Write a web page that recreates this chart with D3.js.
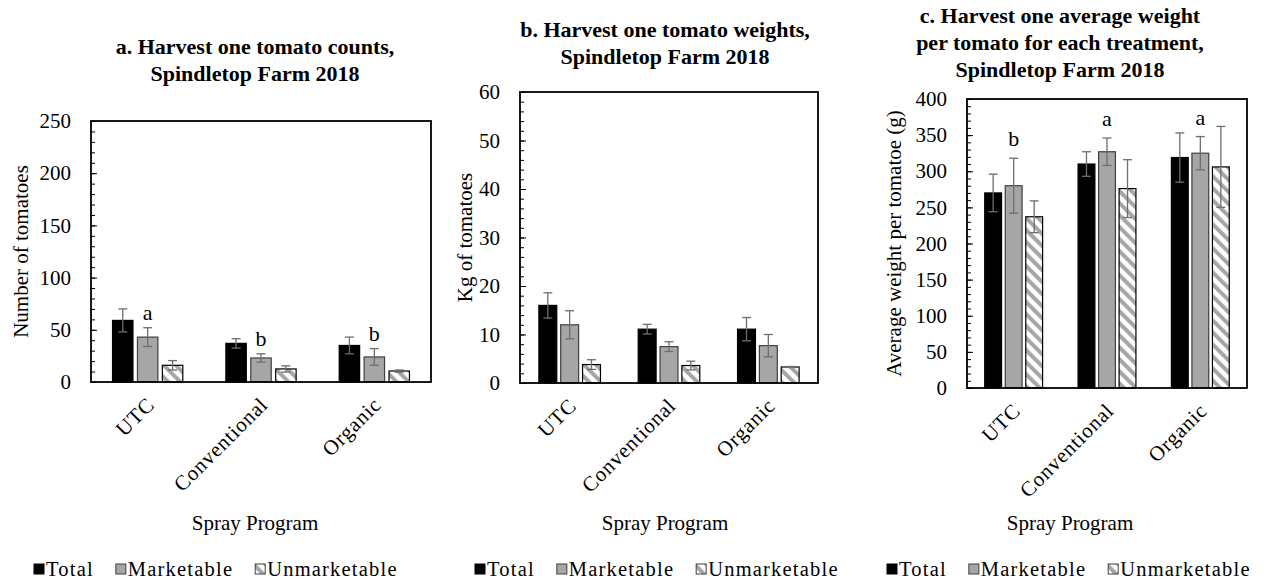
<!DOCTYPE html>
<html>
<head>
<meta charset="utf-8">
<script src="https://cdn.jsdelivr.net/npm/d3@7/dist/d3.min.js"></script>
<style>
  body { margin: 0; background: #fff; }
  svg text { font-family: "Liberation Serif", "Times New Roman", serif; fill: #000; }
</style>
</head>
<body>
<svg id="chart" width="1270" height="582"></svg>
<script>
const categories = ['UTC', 'Conventional', 'Organic'];
const seriesNames = ['Total', 'Marketable', 'Unmarketable'];

// a. counts
const countTotal = [59, 37, 35];
const countTotalErr = [11, 4.5, 8];
const countMarketable = [43, 23, 24];
const countMarketableErr = [9, 4, 8];
const countUnmarketable = [16, 12.5, 10.5];
const countUnmarketableErr = [4.5, 3, 1];
const countLetters = ['a', 'b', 'b'];

// b. weights (kg)
const kgTotal = [16, 11.1, 11.1];
const kgTotalErr = [2.6, 1, 2.4];
const kgMarketable = [12, 7.5, 7.7];
const kgMarketableErr = [2.9, 1, 2.3];
const kgUnmarketable = [3.8, 3.6, 3.3];
const kgUnmarketableErr = [1, 0.9, 0.1];

// c. average weight per tomato (g)
const avgTotal = [270, 310, 319];
const avgTotalErr = [26, 17, 34];
const avgMarketable = [280, 327, 325];
const avgMarketableErr = [38, 19, 23];
const avgUnmarketable = [237, 276, 306];
const avgUnmarketableErr = [22, 40, 56];
const avgLetters = ['b', 'a', 'a'];

const FILL = { Total: '#000', Marketable: '#a6a6a6', Unmarketable: 'url(#hatch)' };
const EDGE = { Total: '#000', Marketable: '#3f3f3f', Unmarketable: '#000' };

const panels = [
  {
    title: ['a. Harvest one tomato counts,', 'Spindletop Farm 2018'],
    titleX: 255, titleY: 54,
    yLabel: 'Number of tomatoes', yLabelX: 21,
    yMax: 250, major: 50, minor: 10,
    box: { x0: 91, x1: 431, y0: 121, y1: 382 },
    values: [countTotal, countMarketable, countUnmarketable],
    errors: [countTotalErr, countMarketableErr, countUnmarketableErr],
    letters: countLetters, letterGap: 8,
    xTitleX: 255, legendX: 34
  },
  {
    title: ['b. Harvest one tomato weights,', 'Spindletop Farm 2018'],
    titleX: 665, titleY: 37,
    yLabel: 'Kg of tomatoes', yLabelX: 465,
    yMax: 60, major: 10, minor: 2,
    box: { x0: 520, x1: 818, y0: 92, y1: 383 },
    values: [kgTotal, kgMarketable, kgUnmarketable],
    errors: [kgTotalErr, kgMarketableErr, kgUnmarketableErr],
    letters: null, letterGap: 0,
    xTitleX: 665, legendX: 475
  },
  {
    title: ['c. Harvest one average weight', 'per tomato for each treatment,', 'Spindletop Farm 2018'],
    titleX: 1060, titleY: 23,
    yLabel: 'Average weight per tomatoe (g)', yLabelX: 894,
    yMax: 400, major: 50, minor: 10,
    box: { x0: 967, x1: 1247, y0: 99, y1: 388 },
    values: [avgTotal, avgMarketable, avgUnmarketable],
    errors: [avgTotalErr, avgMarketableErr, avgUnmarketableErr],
    letters: avgLetters, letterGap: 12,
    xTitleX: 1070, legendX: 887
  }
];

const svg = d3.select('#chart');

const defs = svg.append('defs');
const hatch = defs.append('pattern')
  .attr('id', 'hatch')
  .attr('patternUnits', 'userSpaceOnUse')
  .attr('width', 8.5)
  .attr('height', 8.5)
  .attr('patternTransform', 'rotate(-45)');
hatch.append('rect').attr('width', 8.5).attr('height', 8.5).attr('fill', '#fff');
hatch.append('rect').attr('width', 4).attr('height', 8.5).attr('fill', '#a6a6a6');

function drawPanel(p) {
  const { x0, x1, y0, y1 } = p.box;
  const g = svg.append('g');

  const y = d3.scaleLinear().domain([0, p.yMax]).range([y1, y0]);
  const x = d3.scaleBand().domain(categories).range([x0, x1]);
  const groupWidth = x.bandwidth() * 0.62;
  const xs = d3.scaleBand().domain(seriesNames).range([0, groupWidth]).paddingInner(0.18);
  const offset = (x.bandwidth() - groupWidth) / 2;

  // title
  g.append('text')
    .attr('x', p.titleX)
    .attr('y', p.titleY)
    .attr('text-anchor', 'middle')
    .style('font-size', '22px')
    .style('font-weight', 'bold')
    .selectAll('tspan')
    .data(p.title)
    .join('tspan')
    .attr('x', p.titleX)
    .attr('dy', (d, i) => (i === 0 ? 0 : 27))
    .text((d) => d);

  // inner ticks
  g.append('g')
    .attr('transform', `translate(${x0},0)`)
    .call(d3.axisRight(y).tickValues(d3.range(0, p.yMax + 0.001, p.minor)).tickSize(4).tickFormat(''))
    .call((a) => a.select('.domain').remove())
    .selectAll('line').attr('stroke', '#000');
  g.append('g')
    .attr('transform', `translate(${x0},0)`)
    .call(d3.axisRight(y).tickValues(d3.range(0, p.yMax + 0.001, p.major)).tickSize(6).tickFormat(''))
    .call((a) => a.select('.domain').remove())
    .selectAll('line').attr('stroke', '#000');

  // tick labels
  g.append('g')
    .attr('transform', `translate(${x0},0)`)
    .call(d3.axisLeft(y).tickValues(d3.range(0, p.yMax + 0.001, p.major)).tickSize(0).tickPadding(20))
    .call((a) => a.select('.domain').remove())
    .selectAll('text')
    .style('font-size', '21px');

  // y title
  g.append('text')
    .attr('transform', `translate(${p.yLabelX},${(y0 + y1) / 2}) rotate(-90)`)
    .attr('text-anchor', 'middle')
    .attr('dy', '0.35em')
    .style('font-size', '21px')
    .text(p.yLabel);

  // bars
  const rows = [];
  categories.forEach((c, ci) => {
    seriesNames.forEach((s, si) => {
      rows.push({ c, s, v: p.values[si][ci], e: p.errors[si][ci] });
    });
  });

  g.append('g')
    .selectAll('rect')
    .data(rows)
    .join('rect')
    .attr('x', (d) => x(d.c) + offset + xs(d.s))
    .attr('y', (d) => y(d.v))
    .attr('width', xs.bandwidth())
    .attr('height', (d) => y(0) - y(d.v))
    .attr('fill', (d) => FILL[d.s])
    .attr('stroke', (d) => EDGE[d.s])
    .attr('stroke-width', 1.2);

  // error bars
  const err = g.append('g').attr('stroke', '#6e6e6e').attr('stroke-width', 1.3);
  const cx = (d) => x(d.c) + offset + xs(d.s) + xs.bandwidth() / 2;
  const lo = (d) => y(Math.max(0, d.v - d.e));
  const hi = (d) => y(d.v + d.e);
  err.selectAll('.stem')
    .data(rows)
    .join('line')
    .attr('x1', cx).attr('x2', cx)
    .attr('y1', hi)
    .attr('y2', lo);
  [hi, lo].forEach((end) => {
    err.append('g')
      .selectAll('line')
      .data(rows)
      .join('line')
      .attr('x1', (d) => cx(d) - 4.5)
      .attr('x2', (d) => cx(d) + 4.5)
      .attr('y1', end)
      .attr('y2', end);
  });

  // significance letters above marketable bars
  if (p.letters) {
    g.append('g')
      .selectAll('text')
      .data(categories)
      .join('text')
      .attr('x', (c) => x(c) + offset + xs('Marketable') + xs.bandwidth() / 2)
      .attr('y', (c, i) => y(p.values[1][i] + p.errors[1][i]) - p.letterGap)
      .attr('text-anchor', 'middle')
      .style('font-size', '22px')
      .text((c, i) => p.letters[i]);
  }

  // frame
  g.append('rect')
    .attr('x', x0).attr('y', y0)
    .attr('width', x1 - x0).attr('height', y1 - y0)
    .attr('fill', 'none')
    .attr('stroke', '#000')
    .attr('stroke-width', 1.8);

  // category labels
  g.append('g')
    .selectAll('text')
    .data(categories)
    .join('text')
    .attr('transform', (c) => `translate(${x(c) + x.bandwidth() / 2 + 8},${y1 + 24}) rotate(-45)`)
    .attr('text-anchor', 'end')
    .style('font-size', '21px')
    .style('letter-spacing', '0.8px')
    .text((c) => c);

  g.append('text')
    .attr('x', p.xTitleX)
    .attr('y', 530)
    .attr('text-anchor', 'middle')
    .style('font-size', '21px')
    .text('Spray Program');

  // legend
  const leg = g.append('g').attr('transform', `translate(${p.legendX},576)`);
  let lx = 0;
  seriesNames.forEach((s) => {
    leg.append('rect')
      .attr('x', lx).attr('y', -12)
      .attr('width', 10).attr('height', 10)
      .attr('fill', FILL[s])
      .attr('stroke', s === 'Total' ? '#000' : '#404040')
      .attr('stroke-width', 1);
    const t = leg.append('text')
      .attr('x', lx + 12)
      .attr('y', 0)
      .style('font-size', '20.5px')
      .style('letter-spacing', '1.2px')
      .text(s);
    lx += 12 + t.node().getComputedTextLength() + 22;
  });
}

panels.forEach(drawPanel);
</script>
</body>
</html>
